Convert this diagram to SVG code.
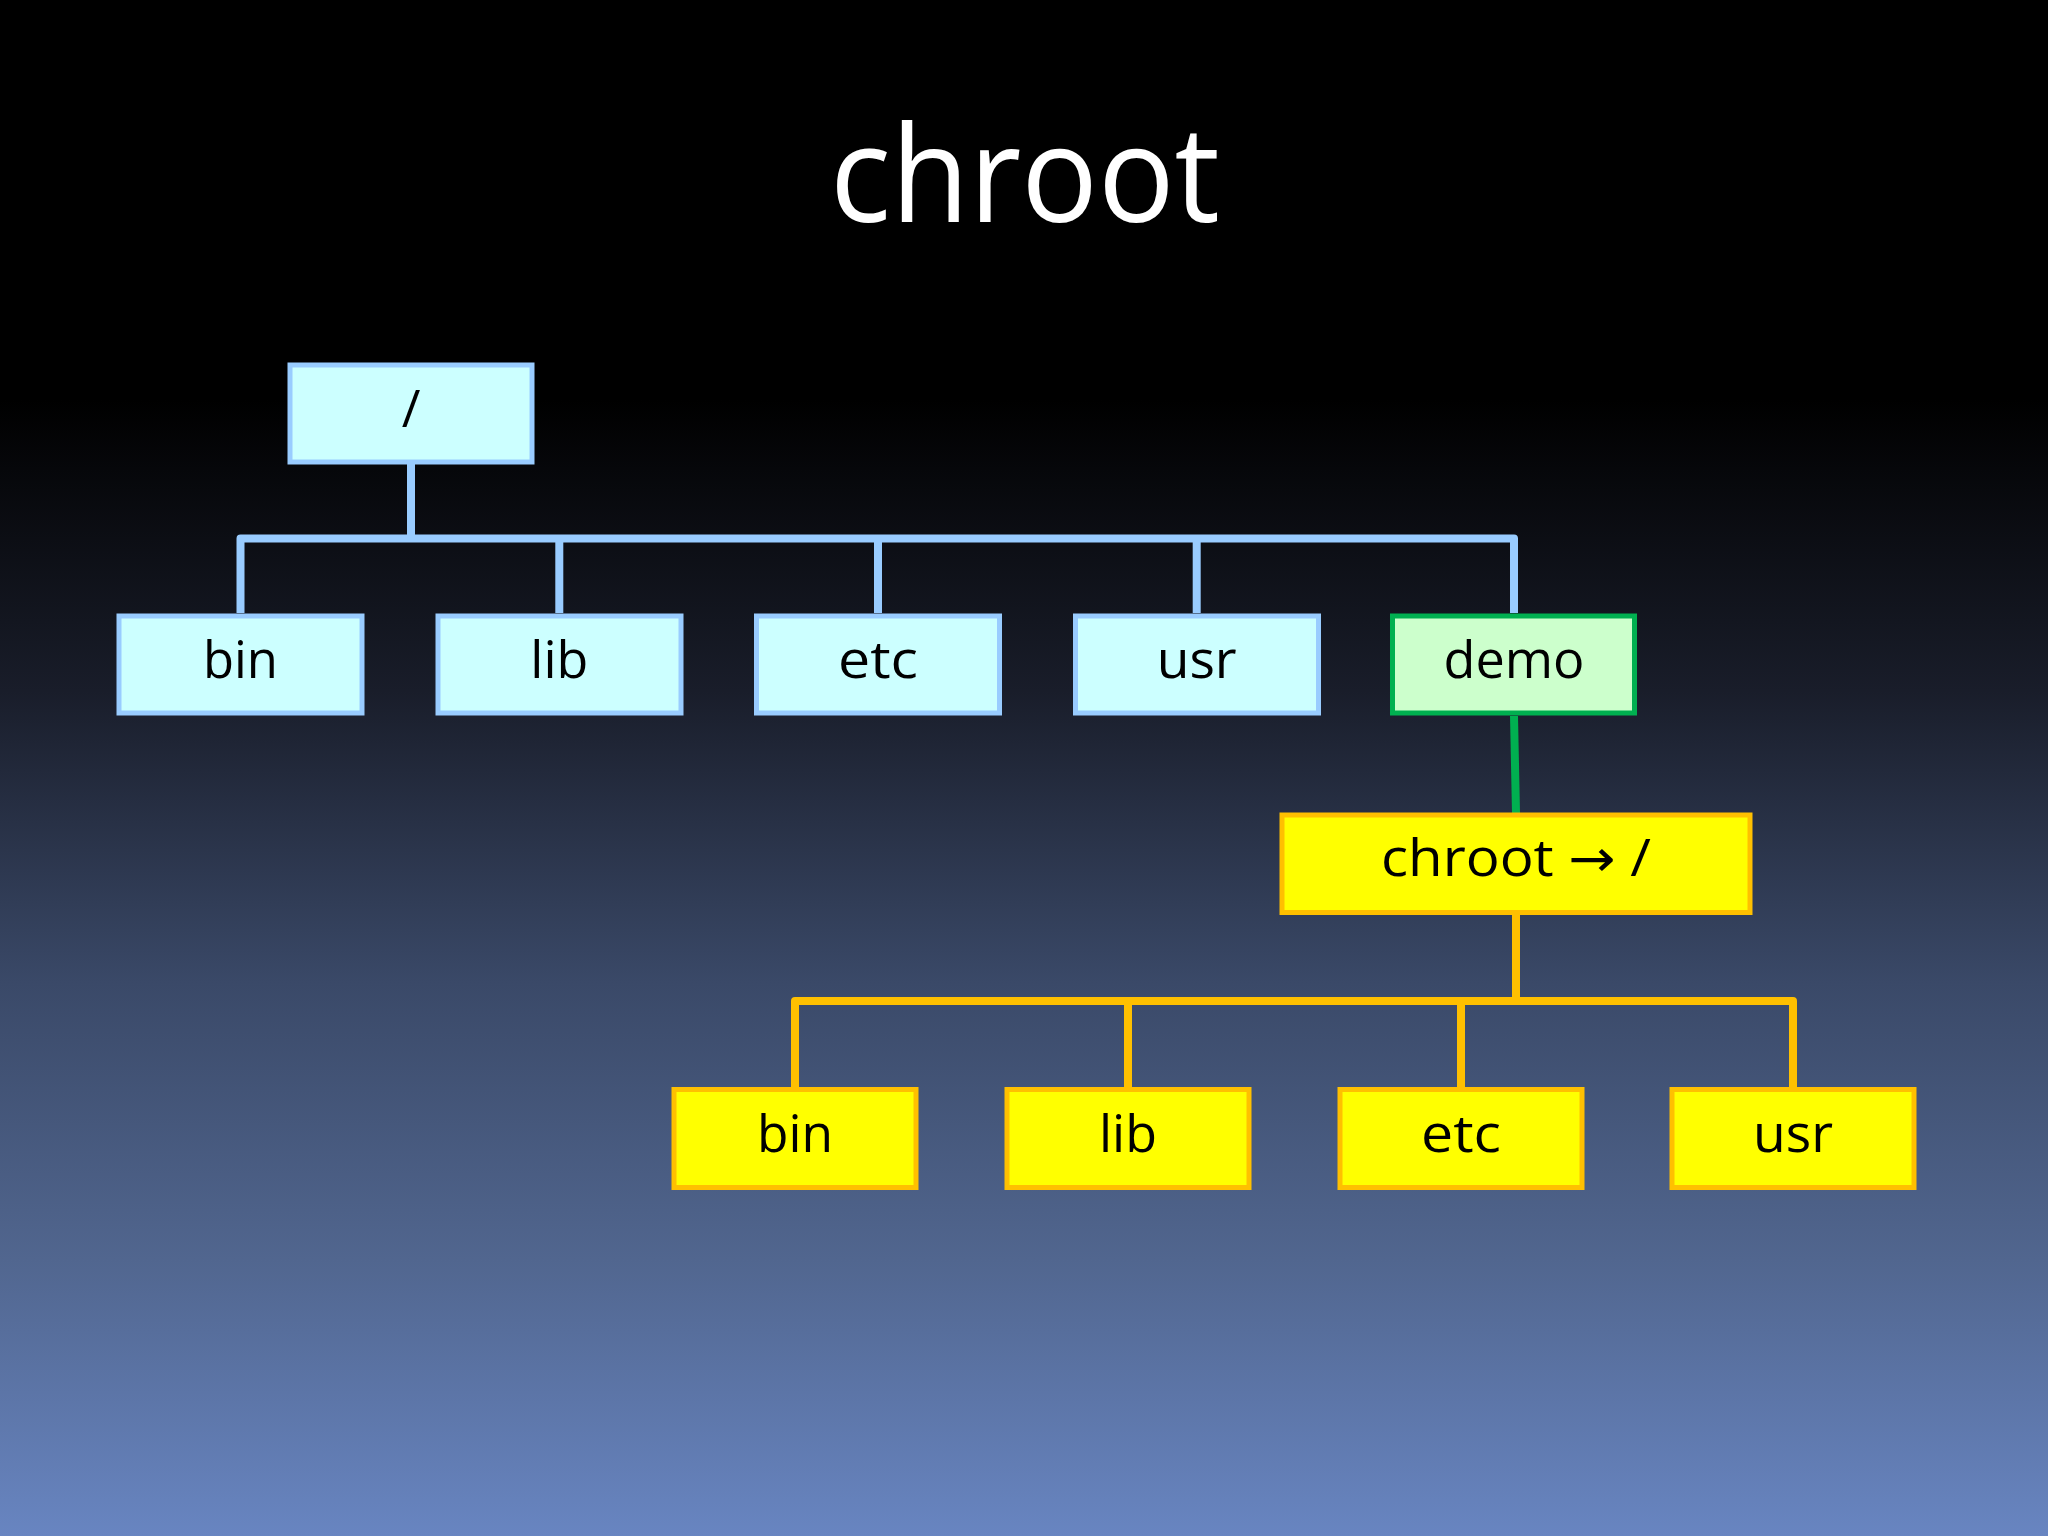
<svg xmlns="http://www.w3.org/2000/svg" width="2048" height="1536" viewBox="0 0 2048 1536">
<defs>
<linearGradient id="bg" x1="0" y1="0" x2="0" y2="1">
<stop offset="0" stop-color="#000000"/>
<stop offset="0.26" stop-color="#000000"/>
<stop offset="0.45" stop-color="#191d2a"/>
<stop offset="0.64" stop-color="#3a4968"/>
<stop offset="0.82" stop-color="#51668f"/>
<stop offset="1" stop-color="#6885c1"/>
</linearGradient>
<style>
.lbl{font-family:"Open Sans","DejaVu Sans",sans-serif;font-size:51px;fill:#000;text-anchor:middle}
.title{font-family:"Open Sans","DejaVu Sans",sans-serif;font-size:133px;fill:#fff;text-anchor:middle}
.blue{fill:#CCFFFF;stroke:#99CCFF;stroke-width:5}
.green{fill:#CCFFCC;stroke:#00B050;stroke-width:5}
.yellow{fill:#FFFF00;stroke:#FFC000;stroke-width:5}
.cb{fill:none;stroke:#99CCFF;stroke-width:8;stroke-linejoin:round}
.cg{fill:none;stroke:#00B050;stroke-width:8}
.cy{fill:none;stroke:#FFC000;stroke-width:8;stroke-linejoin:round}
</style>
</defs>
<rect x="0" y="0" width="2048" height="1536" fill="url(#bg)"/>
<text class="title" x="1025" y="222" textLength="390" lengthAdjust="spacingAndGlyphs">chroot</text>

<g id="connectors">
<path class="cb" d="M411,464 V538.5"/>
<path class="cb" d="M240.5,613 V538.5 H1514 V613"/>
<path class="cb" d="M559.3,538.5 V613 M878,538.5 V613 M1196.7,538.5 V613"/>
<path class="cg" d="M1514,716 L1516,813"/>
<path class="cy" d="M1516,915 V1001"/>
<path class="cy" d="M795,1087 V1001 H1793 V1087"/>
<path class="cy" d="M1128,1001 V1087 M1461,1001 V1087"/>
</g>

<g id="node-root">
<rect class="blue" x="290" y="365" width="242" height="97"/>
<text class="lbl" x="411" y="427">/</text>
</g>
<g id="node-bin">
<rect class="blue" x="119" y="616" width="243" height="97"/>
<text class="lbl" x="240.5" y="678" textLength="75" lengthAdjust="spacingAndGlyphs">bin</text>
</g>
<g id="node-lib">
<rect class="blue" x="438" y="616" width="243" height="97"/>
<text class="lbl" x="559.3" y="678" textLength="58" lengthAdjust="spacingAndGlyphs">lib</text>
</g>
<g id="node-etc">
<rect class="blue" x="756.5" y="616" width="243" height="97"/>
<text class="lbl" x="878" y="678" textLength="80" lengthAdjust="spacingAndGlyphs">etc</text>
</g>
<g id="node-usr">
<rect class="blue" x="1075.5" y="616" width="243" height="97"/>
<text class="lbl" x="1196.7" y="678" textLength="80" lengthAdjust="spacingAndGlyphs">usr</text>
</g>
<g id="node-demo">
<rect class="green" x="1392.5" y="616" width="242" height="97"/>
<text class="lbl" x="1514" y="678" textLength="141" lengthAdjust="spacingAndGlyphs">demo</text>
</g>
<g id="node-chroot">
<rect class="yellow" x="1282" y="815" width="468" height="97.5"/>
<text class="lbl" x="1516" y="876" textLength="270" lengthAdjust="spacingAndGlyphs">chroot → /</text>
</g>
<g id="node-bin2">
<rect class="yellow" x="674" y="1089.5" width="242" height="98"/>
<text class="lbl" x="795" y="1152" textLength="76" lengthAdjust="spacingAndGlyphs">bin</text>
</g>
<g id="node-lib2">
<rect class="yellow" x="1007" y="1089.5" width="242" height="98"/>
<text class="lbl" x="1128" y="1152" textLength="58" lengthAdjust="spacingAndGlyphs">lib</text>
</g>
<g id="node-etc2">
<rect class="yellow" x="1340" y="1089.5" width="242" height="98"/>
<text class="lbl" x="1461" y="1152" textLength="80" lengthAdjust="spacingAndGlyphs">etc</text>
</g>
<g id="node-usr2">
<rect class="yellow" x="1672" y="1089.5" width="242" height="98"/>
<text class="lbl" x="1793" y="1152" textLength="80" lengthAdjust="spacingAndGlyphs">usr</text>
</g>
</svg>
